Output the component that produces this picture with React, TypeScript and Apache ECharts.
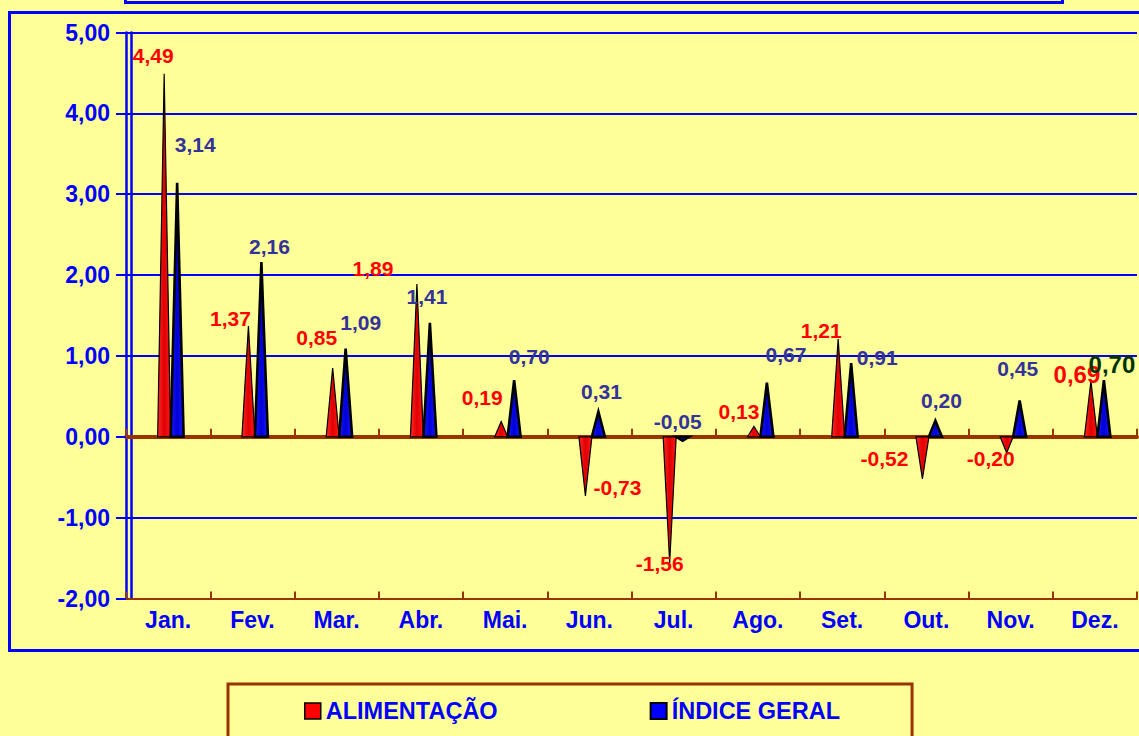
import React, { useEffect, useRef } from 'react';
import * as echarts from 'echarts';

const months = ['Jan.', 'Fev.', 'Mar.', 'Abr.', 'Mai.', 'Jun.', 'Jul.', 'Ago.', 'Set.', 'Out.', 'Nov.', 'Dez.'];
const alimentacao = [4.49, 1.37, 0.85, 1.89, 0.19, -0.73, -1.56, 0.13, 1.21, -0.52, -0.2, 0.69];
const indiceGeral = [3.14, 2.16, 1.09, 1.41, 0.7, 0.31, -0.05, 0.67, 0.91, 0.2, 0.45, 0.7];
const yMin = -2;
const yMax = 5;
const yStep = 1;

// label nudges (px) from each spike tip, layout only
const alimLabelNudge = [[-11, -18], [-18, -8], [-16, -31], [-44, -15], [-19, -24], [32, -8], [-10, 1], [-15, -15], [-17, -8], [-38, -20], [-16, 6], [-14, -6]];
const geralLabelNudge = [[18, -38], [8, -16], [15, -26], [-3, -26], [15, -24], [3, -20], [-5, -19], [19, -28], [26, -6], [6, -20], [-2, -32], [8, -16]];

const FONT = "Arial, 'Liberation Sans', sans-serif";
const BG = '#FFFF99';
const BLUE = '#0000FF';
const BROWN = '#993300';

const fmt = (v: number) => v.toFixed(2).replace('.', ',');

function spikeRenderer(
  shiftFrac: number,
  halfW: number,
  fill: any,
  strokeW: number,
  nudges: number[][],
  labelColor: string,
  lastColor: string,
  lastSize: number
) {
  return (params: any, api: any) => {
    const i = api.value(0);
    const v = api.value(1);
    const band = api.size([1, 0])[0];
    const base = api.coord([i, 0]);
    const tip = api.coord([i, v]);
    const cx = base[0] + band * shiftFrac;
    const n = nudges[i] || [0, -16];
    const isLast = i === months.length - 1;
    return {
      type: 'group',
      children: [
        {
          type: 'polygon',
          shape: { points: [[cx - halfW, base[1]], [cx + halfW, base[1]], [cx, tip[1]]] },
          style: { fill, stroke: '#000000', lineWidth: strokeW, lineJoin: 'miter' },
        },
        {
          type: 'text',
          x: cx + n[0],
          y: tip[1] + n[1],
          style: {
            text: fmt(v),
            fill: isLast ? lastColor : labelColor,
            fontSize: isLast ? lastSize : 21,
            fontWeight: 'bold',
            fontFamily: FONT,
            align: 'center',
            verticalAlign: 'middle',
          },
        },
      ],
    };
  };
}

export default function App() {
  const ref = useRef<HTMLDivElement>(null);

  useEffect(() => {
    if (!ref.current) return;
    const chart = echarts.init(ref.current, null, { renderer: 'svg' });

    const redFill = new echarts.graphic.LinearGradient(0, 0, 1, 0, [
      { offset: 0, color: '#FF2A2A' },
      { offset: 0.5, color: '#E00000' },
      { offset: 1, color: '#FF1A1A' },
    ]);
    const blueFill = new echarts.graphic.LinearGradient(0, 0, 1, 0, [
      { offset: 0, color: '#1A1AFF' },
      { offset: 0.5, color: '#0000D8' },
      { offset: 1, color: '#1A1AFF' },
    ]);

    const option: any = {
      animation: false,
      backgroundColor: BG,
      grid: { left: 126, top: 32.5, width: 1011, height: 566, containLabel: false },
      graphic: [
        {
          type: 'rect',
          shape: { x: 9.5, y: 12.5, width: 1145, height: 638 },
          style: { fill: 'none', stroke: BLUE, lineWidth: 3 },
          silent: true,
        },
        {
          type: 'rect',
          shape: { x: 125.5, y: -30, width: 937, height: 32.5 },
          style: { fill: 'none', stroke: BLUE, lineWidth: 3 },
          silent: true,
        },
      ],
      legend: {
        left: 228,
        top: 684,
        orient: 'horizontal',
        padding: [15, 72, 40, 76],
        itemWidth: 16,
        itemHeight: 16,
        itemGap: 152,
        borderColor: BROWN,
        borderWidth: 3,
        borderRadius: 0,
        backgroundColor: BG,
        selectedMode: false,
        textStyle: { color: BLUE, fontSize: 23.5, fontWeight: 'bold', fontFamily: FONT, lineHeight: 24 },
        data: [
          { name: 'ALIMENTAÇÃO', icon: 'rect', itemStyle: { color: '#FF0000', borderColor: '#000', borderWidth: 1.5 } },
          { name: 'ÍNDICE GERAL', icon: 'rect', itemStyle: { color: '#0000FF', borderColor: '#000', borderWidth: 2 } },
        ],
      },
      xAxis: [
        {
          type: 'category',
          data: months,
          position: 'bottom',
          axisLine: { show: true, onZero: false, lineStyle: { color: BROWN, width: 2 } },
          axisTick: { show: true, inside: true, length: 7, lineStyle: { color: BROWN, width: 2 } },
          axisLabel: { interval: 0, margin: 10, color: BLUE, fontSize: 23, fontWeight: 'bold', fontFamily: FONT },
          splitLine: { show: false },
        },
        {
          type: 'category',
          data: months,
          position: 'bottom',
          axisLine: { show: true, onZero: true, lineStyle: { color: BROWN, width: 4 } },
          axisTick: { show: true, inside: true, length: 8, lineStyle: { color: BROWN, width: 2 } },
          axisLabel: { show: false },
          splitLine: { show: false },
        },
      ],
      yAxis: [
        {
          type: 'value',
          min: yMin,
          max: yMax,
          interval: yStep,
          axisLine: { show: true, onZero: false, lineStyle: { color: BLUE, width: 2.5 } },
          axisTick: { show: true, length: 10, lineStyle: { color: BLUE, width: 2 } },
          axisLabel: { margin: 16, color: BLUE, fontSize: 23, fontWeight: 'bold', fontFamily: FONT, formatter: (v: number) => fmt(v) },
          splitLine: { show: true, lineStyle: { color: BLUE, width: 2 } },
        },
        {
          type: 'value',
          min: yMin,
          max: yMax,
          interval: yStep,
          position: 'left',
          offset: -5,
          axisLine: { show: true, onZero: false, lineStyle: { color: BLUE, width: 2.5 } },
          axisTick: { show: false },
          axisLabel: { show: false },
          splitLine: { show: false },
        },
      ],
      series: [
        {
          name: 'ALIMENTAÇÃO',
          type: 'custom',
          xAxisIndex: 0,
          yAxisIndex: 0,
          itemStyle: { color: '#FF0000' },
          encode: { x: 0, y: 1 },
          data: alimentacao.map((v, i) => [i, v]),
          renderItem: spikeRenderer(-0.047, 6.5, redFill, 1.2, alimLabelNudge, '#FF0000', '#FF0000', 24),
          z: 3,
        },
        {
          name: 'ÍNDICE GERAL',
          type: 'custom',
          xAxisIndex: 0,
          yAxisIndex: 0,
          itemStyle: { color: '#0000FF' },
          encode: { x: 0, y: 1 },
          data: indiceGeral.map((v, i) => [i, v]),
          renderItem: spikeRenderer(0.107, 6.5, blueFill, 2.6, geralLabelNudge, '#333399', '#003300', 24),
          z: 4,
        },
      ],
    };

    chart.setOption(option);
    return () => chart.dispose();
  }, []);

  return (
    <div
      ref={ref}
      style={{ position: 'fixed', left: 0, top: 0, width: 1139, height: 736, background: BG }}
    />
  );
}
